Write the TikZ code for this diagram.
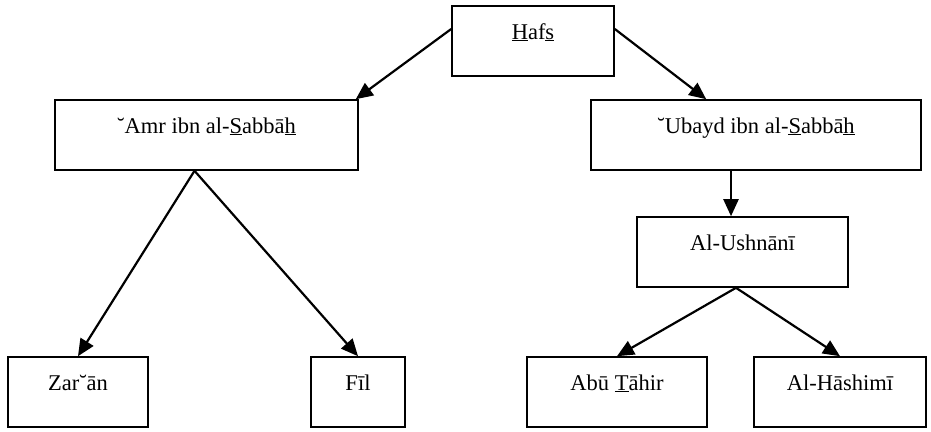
\documentclass[tikz,border=0pt]{standalone}
\usepackage{fontspec}
\setmainfont{Liberation Serif}
\usetikzlibrary{arrows.meta}
\tikzset{
  namebox/.style={draw, line width=1.6pt, inner sep=0pt,
    text height=33pt, text depth=37pt,
    font=\fontsize{22.5}{26}\selectfont},
  link/.style={line width=2.2pt, -{Triangle[length=17pt,width=15pt]}},
}
\begin{document}
\begin{tikzpicture}[x=1pt,y=-1pt]
\useasboundingbox (0,0) rectangle (931,431);

% top
\node[namebox, minimum width=162pt] (hafs) at (533,41) {\underline{H}af\underline{s}};

% second generation
\node[namebox, minimum width=303pt] (amr) at (206.5,135) {˘Amr ibn al-\underline{S}abbā\underline{h}};
\node[namebox, minimum width=330pt] (ubayd) at (756,135) {˘Ubayd ibn al-\underline{S}abbā\underline{h}};

% third generation
\node[namebox, minimum width=211pt] (ush) at (742.5,252) {Al-Ushnānī};

% bottom row
\node[namebox, minimum width=140pt] (zar) at (78,392) {Zar˘ān};
\node[namebox, minimum width=94pt] (fil) at (358,392) {Fīl};
\node[namebox, minimum width=180pt] (abu) at (617,392) {Abū \underline{T}āhir};
\node[namebox, minimum width=172pt] (has) at (840,392) {Al-Hāshimī};

% links
\draw[link] ([yshift=12pt]hafs.west) -- ([xshift=-3pt]amr.north east);
\draw[link] ([yshift=12pt]hafs.east) -- ([xshift=116pt]ubayd.north west);
\draw[link] ([xshift=-12pt]amr.south) -- (zar.north);
\draw[link] ([xshift=-12pt]amr.south) -- (fil.north);
\draw[link] ([xshift=-11.5pt]ush.north |- ubayd.south) -- ([xshift=-11.5pt]ush.north);
\draw[link] ([xshift=-6.5pt]ush.south) -- (abu.north);
\draw[link] ([xshift=-6.5pt]ush.south) -- (has.north);
\end{tikzpicture}
\end{document}
